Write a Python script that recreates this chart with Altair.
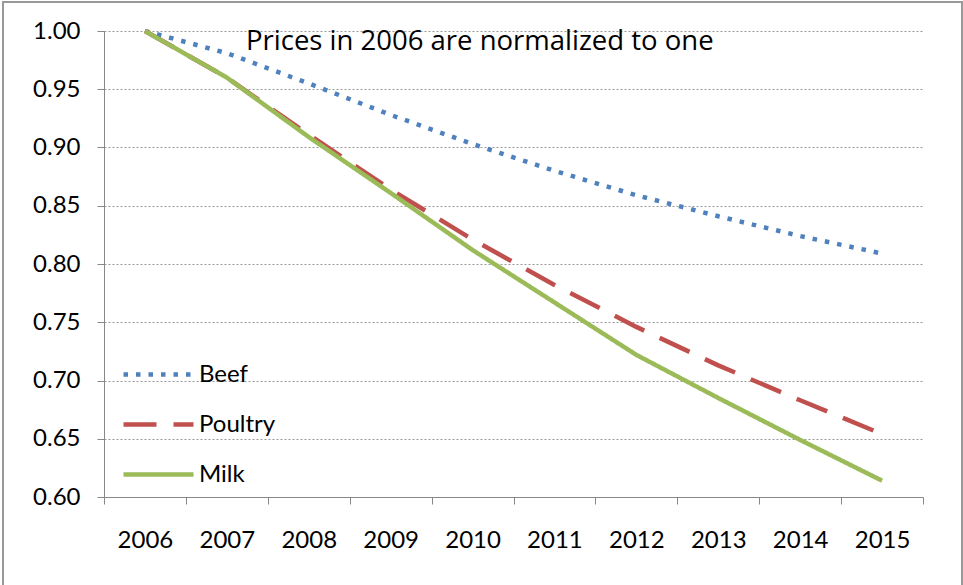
import altair as alt
import pandas as pd

years = ["2006", "2007", "2008", "2009", "2010", "2011", "2012", "2013", "2014", "2015"]
beef = [1.00, 0.981, 0.955, 0.928, 0.903, 0.880, 0.859, 0.841, 0.824, 0.809]
poultry = [1.00, 0.960, 0.911, 0.864, 0.821, 0.782, 0.746, 0.713, 0.683, 0.654]
milk = [1.00, 0.960, 0.909, 0.861, 0.812, 0.767, 0.722, 0.685, 0.649, 0.614]
series_names = ["Beef", "Poultry", "Milk"]
series_colors = ["#4F81BD", "#C0504D", "#9BBB59"]
y_ticks = [0.60, 0.65, 0.70, 0.75, 0.80, 0.85, 0.90, 0.95, 1.00]
note = "Prices in 2006 are normalized to one"

rows = []
for name, vals in zip(series_names, [beef, poultry, milk]):
    for yr, v in zip(years, vals):
        rows.append({"Year": yr, "Price": v, "Series": name})
df = pd.DataFrame(rows)

FONT = "Lato"

x_enc = alt.X("Year:N", sort=years,
              scale=alt.Scale(type="band", domain=years, paddingInner=0, paddingOuter=0),
              axis=alt.Axis(title=None, tickBand="extent", labelAngle=0, labelFont=FONT,
                            labelFontSize=24, labelColor="#000", labelPadding=24,
                            tickSize=7, tickColor="#888", domainColor="#888",
                            grid=False))
y_enc = alt.Y("Price:Q",
              scale=alt.Scale(domain=[0.6, 1.0], nice=False, zero=False),
              axis=alt.Axis(title=None, values=y_ticks, format=".2f", labelFont=FONT,
                            labelFontSize=24, labelColor="#000", labelPadding=17,
                            tickSize=7, tickColor="#888", domainColor="#888",
                            grid=True, gridColor="#999", gridDash=[2, 2], gridWidth=1))

lines = alt.Chart(df).mark_line(strokeWidth=4.5, strokeCap="butt", strokeJoin="round").encode(
    x=x_enc,
    y=y_enc,
    color=alt.Color("Series:N", sort=series_names,
                    scale=alt.Scale(domain=series_names, range=series_colors),
                    legend=alt.Legend(title=None, orient="none", legendX=17, legendY=306,
                                      symbolType="stroke", symbolSize=4900,
                                      symbolStrokeWidth=4.5, labelFont=FONT,
                                      labelFontSize=24, labelColor="#000",
                                      labelOffset=3, rowPadding=-25.5, padding=0)),
    strokeDash=alt.StrokeDash("Series:N", sort=series_names,
                              scale=alt.Scale(domain=series_names,
                                              range=[[4.5, 8], [33, 17], [1, 0]]),
                              legend=None),
)

note_text = alt.Chart(pd.DataFrame({"t": [note]})).mark_text(
    align="left", baseline="alphabetic", font="Open Sans", fontSize=27.5, color="#000"
).encode(x=alt.value(142), y=alt.value(19), text="t:N")

border = alt.Chart(pd.DataFrame({"a": [0]})).mark_rect(
    fill=None, stroke="#999", strokeWidth=2
).encode(x=alt.value(-101), x2=alt.value(858), y=alt.value(-29), y2=alt.value(600))

chart = alt.layer(lines, note_text, border).properties(
    width=819, height=466,
    autosize=alt.AutoSizeParams(type="none"),
    padding={"left": 104, "top": 31, "right": 40, "bottom": 88},
    background="white",
).configure_view(stroke=None)

chart.save("out.html", embed_options={"renderer": "svg", "actions": False})
